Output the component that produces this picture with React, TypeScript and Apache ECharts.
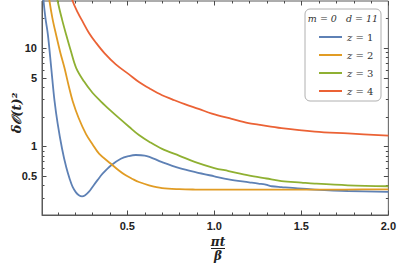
import React, { useEffect, useRef } from "react";
import * as echarts from "echarts";

// ---- data (x = πt/β, y = δO(t)^2) ----
const seriesNames = ["z = 1", "z = 2", "z = 3", "z = 4"];
const colors = ["#5E81B5", "#E19C24", "#8FB032", "#EB6235"];

const blueX = [0.014, 0.019, 0.03, 0.044, 0.063, 0.082, 0.1, 0.125, 0.149, 0.17, 0.186, 0.205, 0.222, 0.24, 0.258, 0.28, 0.3, 0.33, 0.358, 0.406, 0.463, 0.51, 0.549, 0.6, 0.7, 0.8, 0.891, 1.0, 1.082, 1.2, 1.253, 1.29, 1.31, 1.33, 1.386, 1.48, 1.577, 1.767, 2.0];
const blueY = [40, 30, 20, 13.6, 6.28, 2.89, 1.7, 0.95, 0.614, 0.46, 0.386, 0.34, 0.318, 0.31, 0.318, 0.345, 0.386, 0.455, 0.526, 0.638, 0.746, 0.795, 0.815, 0.805, 0.689, 0.6, 0.546, 0.495, 0.461, 0.43, 0.417, 0.41, 0.4, 0.392, 0.384, 0.372, 0.363, 0.351, 0.343];

const orangeX = [0.045, 0.053, 0.07, 0.091, 0.115, 0.139, 0.165, 0.186, 0.22, 0.263, 0.3, 0.339, 0.406, 0.45, 0.491, 0.53, 0.567, 0.625, 0.7, 0.8, 0.891, 1.0, 1.25, 1.5, 1.75, 2.0];
const orangeY = [40, 30, 20, 13.6, 9.0, 6.28, 4.0, 2.89, 1.95, 1.33, 1.05, 0.838, 0.664, 0.57, 0.506, 0.465, 0.433, 0.401, 0.376, 0.366, 0.363, 0.362, 0.362, 0.362, 0.363, 0.365];

const greenX = [0.09, 0.1, 0.125, 0.149, 0.175, 0.206, 0.25, 0.3, 0.349, 0.406, 0.453, 0.51, 0.567, 0.63, 0.7, 0.8, 0.891, 1.0, 1.082, 1.196, 1.3, 1.386, 1.5, 1.577, 1.767, 2.0];
const greenY = [40, 30, 19.5, 13.6, 9.4, 6.28, 4.6, 3.5, 2.85, 2.29, 1.93, 1.58, 1.3, 1.1, 0.94, 0.8, 0.689, 0.6, 0.56, 0.506, 0.47, 0.443, 0.427, 0.417, 0.401, 0.392];

const redX = [0.17, 0.186, 0.215, 0.243, 0.28, 0.32, 0.37, 0.434, 0.51, 0.567, 0.63, 0.7, 0.758, 0.83, 0.91, 0.986, 1.1, 1.196, 1.253, 1.386, 1.577, 1.767, 2.0];
const redY = [40, 30, 23, 18.6, 14.2, 11.3, 8.8, 6.8, 5.38, 4.5, 3.85, 3.3, 3.0, 2.68, 2.4, 2.15, 1.9, 1.72, 1.66, 1.53, 1.41, 1.35, 1.28];

const xMajorTicks = [0.5, 1.0, 1.5, 2.0];
const xMinorTicks = [0.1, 0.2, 0.3, 0.4, 0.6, 0.7, 0.8, 0.9, 1.1, 1.2, 1.3, 1.4, 1.6, 1.7, 1.8, 1.9];
const yMajorTicks = [0.5, 1, 5, 10];
const yMinorTicks = [0.3, 0.4, 0.6, 0.7, 0.8, 0.9, 2, 3, 4, 6, 7, 8, 9, 20];

const X_MIN = 0.01;
const X_MAX = 2.0;
const Y_MIN = 0.2;
const Y_MAX = 30;

const lg = (v: number) => Math.log10(v);

export default function App() {
  const ref = useRef<HTMLDivElement>(null);

  useEffect(() => {
    if (!ref.current) return;
    const chart = echarts.init(ref.current, undefined, { renderer: "svg" });
    const frame = "#5a5a5a";
    const tickColor = "#4a4a4a";
    const labelFont = {
      fontFamily: "Liberation Sans, Arial, sans-serif",
      fontWeight: "bold" as const,
      fontSize: 11,
      color: "#222",
    };
    const serif = "DejaVu Serif, Liberation Serif, serif";

    const xs = [blueX, orangeX, greenX, redX];
    const ys = [blueY, orangeY, greenY, redY];

    const option: any = {
      animation: false,
      backgroundColor: "#fff",
      grid: {
        left: 42,
        right: 8,
        top: 1,
        bottom: 54,
        containLabel: false,
        show: true,
        borderColor: frame,
        borderWidth: 1,
        backgroundColor: "transparent",
      },
      xAxis: {
        type: "value",
        min: X_MIN,
        max: X_MAX,
        splitLine: { show: false },
        axisTick: { show: false },
        axisLine: { show: true, onZero: false, lineStyle: { color: frame, width: 1 } },
        axisLabel: {
          show: true,
          customValues: xMajorTicks,
          formatter: (v: number) => v.toFixed(1),
          margin: 5,
          ...labelFont,
        },
      },
      yAxis: {
        type: "value",
        min: lg(Y_MIN),
        max: lg(Y_MAX),
        splitLine: { show: false },
        axisTick: { show: false },
        axisLine: { show: true, onZero: false, lineStyle: { color: frame, width: 1 } },
        axisLabel: {
          show: true,
          customValues: yMajorTicks.map(lg),
          formatter: (v: number) => String(Math.round(Math.pow(10, v) * 10) / 10),
          margin: 5,
          ...labelFont,
        },
      },
      legend: {
        show: true,
        orient: "vertical",
        left: 314,
        top: 26,
        icon: "rect",
        itemWidth: 23,
        itemHeight: 2,
        itemGap: 6,
        data: seriesNames,
        textStyle: {
          fontFamily: serif,
          fontSize: 10,
          color: "#333",
          lineHeight: 12,
          rich: {
            i: { fontStyle: "italic", fontFamily: serif, fontSize: 10, color: "#333" },
            n: { fontFamily: serif, fontSize: 10, color: "#333" },
          },
        },
        formatter: (name: string) => {
          const parts = name.split(" ");
          return `{i|${parts[0]}}{n| ${parts.slice(1).join(" ")}}`;
        },
      },
      series: seriesNames.map((name, i) => ({
        name,
        type: "line",
        showSymbol: false,
        symbol: "none",
        smooth: 0.35,
        clip: true,
        lineStyle: { color: colors[i], width: 1.8 },
        itemStyle: { color: colors[i] },
        data: xs[i].map((x, k) => [x, lg(ys[i][k])]),
      })),
    };
    chart.setOption(option);

    // frame ticks positioned through the chart's own scales
    const px = (x: number, y: number) =>
      chart.convertToPixel({ gridIndex: 0 }, [x, y]) as number[];
    const tickStyle = { stroke: tickColor, lineWidth: 1 };
    const ticks: any[] = [];
    const addX = (v: number, len: number) => {
      const b = px(v, lg(Y_MIN));
      const t = px(v, lg(Y_MAX));
      const xx = Math.round(b[0]) + 0.5;
      ticks.push({ type: "line", silent: true, shape: { x1: xx, y1: b[1], x2: xx, y2: b[1] - len }, style: tickStyle });
      ticks.push({ type: "line", silent: true, shape: { x1: xx, y1: t[1], x2: xx, y2: t[1] + len }, style: tickStyle });
    };
    const addY = (v: number, len: number) => {
      const l = px(X_MIN, lg(v));
      const r = px(X_MAX, lg(v));
      const yy = Math.round(l[1]) + 0.5;
      ticks.push({ type: "line", silent: true, shape: { x1: l[0], y1: yy, x2: l[0] + len, y2: yy }, style: tickStyle });
      ticks.push({ type: "line", silent: true, shape: { x1: r[0], y1: yy, x2: r[0] - len, y2: yy }, style: tickStyle });
    };
    xMajorTicks.forEach((v) => addX(v, 4.5));
    xMinorTicks.forEach((v) => addX(v, 2.5));
    yMajorTicks.forEach((v) => addY(v, 4.5));
    yMinorTicks.forEach((v) => addY(v, 2.5));

    chart.setOption({
      graphic: [
        {
          type: "rect",
          z: -1,
          shape: { x: 305, y: 9, width: 76, height: 92, r: 5 },
          style: { fill: "#fff", stroke: "#b0b0b0", lineWidth: 1 },
        },
        {
          type: "text",
          x: 343,
          y: 18,
          style: {
            text: "m = 0   d = 11",
            fontFamily: serif,
            fontStyle: "italic",
            fontSize: 9.5,
            fill: "#333",
            align: "center",
            verticalAlign: "middle",
          },
        },
        {
          type: "text",
          x: 16,
          y: 113,
          rotation: Math.PI / 2,
          style: {
            text: "δ𝒪(t)²",
            fontFamily: serif,
            fontStyle: "italic",
            fontWeight: "bold",
            fontSize: 13,
            fill: "#222",
            align: "center",
            verticalAlign: "middle",
          },
        },
        {
          type: "text",
          x: 218,
          y: 242,
          style: {
            text: "πt",
            fontFamily: serif,
            fontStyle: "italic",
            fontWeight: "bold",
            fontSize: 12,
            fill: "#222",
            align: "center",
            verticalAlign: "middle",
          },
        },
        {
          type: "line",
          shape: { x1: 211, y1: 248.5, x2: 225, y2: 248.5 },
          style: { stroke: "#222", lineWidth: 1 },
        },
        {
          type: "text",
          x: 218,
          y: 256,
          style: {
            text: "β",
            fontFamily: serif,
            fontStyle: "italic",
            fontWeight: "bold",
            fontSize: 12,
            fill: "#222",
            align: "center",
            verticalAlign: "middle",
          },
        },
        ...ticks,
      ],
    });
    return () => chart.dispose();
  }, []);

  return (
    <div
      ref={ref}
      style={{ position: "fixed", left: 0, top: 0, width: 399, height: 269 }}
    />
  );
}
